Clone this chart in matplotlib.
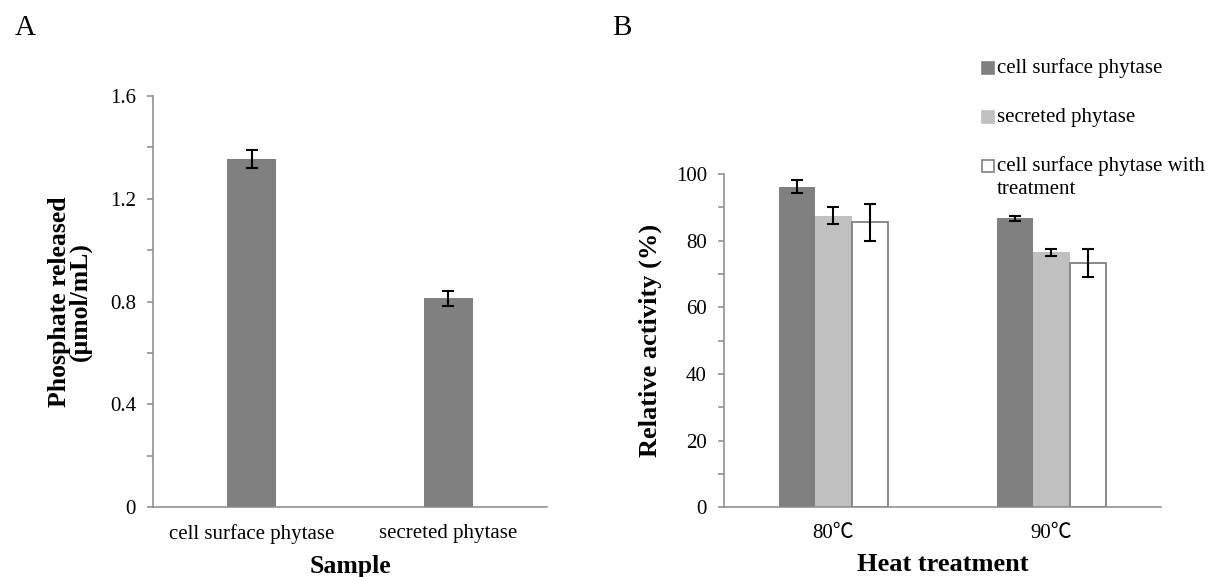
import matplotlib
matplotlib.use('Agg')
import matplotlib.pyplot as plt
from matplotlib.patches import Rectangle
from matplotlib.ticker import MultipleLocator
import numpy as np

plt.rcParams['font.family'] = ['Liberation Serif', 'Noto Sans CJK SC', 'DejaVu Sans']

# panel A data
samples = ['cell surface phytase', 'secreted phytase']
phosphate = [1.354, 0.812]
phosphate_err = [0.034, 0.030]

# panel B data
temps = ['80\u2103', '90\u2103']
series_names = ['cell surface phytase', 'secreted phytase', 'cell surface phytase with\ntreatment']
surface_act = [96.2, 86.7]
surface_err = [1.9, 0.75]
secreted_act = [87.5, 76.5]
secreted_err = [2.55, 1.0]
treated_act = [85.5, 73.2]
treated_err = [5.65, 4.2]

axis_grey = '#898989'
dark = '#808080'
light = '#c0c0c0'

fig = plt.figure(figsize=(12.11, 5.77), dpi=100)
axA = fig.add_axes([0.1266, 0.1208, 0.3248, 0.7133])
axB = fig.add_axes([0.5981, 0.1208, 0.3602, 0.5776])


def style_axis(ax):
    for s in ['top', 'right']:
        ax.spines[s].set_visible(False)
    for s in ['left', 'bottom']:
        ax.spines[s].set_color(axis_grey)
        ax.spines[s].set_linewidth(1.1)
    ax.tick_params(axis='y', which='both', direction='out', length=4.5, width=1.1,
                   color=axis_grey, labelsize=15, pad=8)
    ax.tick_params(axis='x', which='both', length=0, labelsize=15, pad=12)


# ---- A
x = np.arange(len(samples))
axA.bar(x, phosphate, 0.25, color=dark)
axA.errorbar(x, phosphate, yerr=phosphate_err, fmt='none', ecolor='black',
             elinewidth=1.5, capsize=4.3, capthick=1.5)
axA.set_xlim(-0.5, 1.5)
axA.set_ylim(0, 1.6)
axA.yaxis.set_major_locator(MultipleLocator(0.4))
axA.yaxis.set_minor_locator(MultipleLocator(0.2))
axA.yaxis.set_major_formatter(lambda v, p: '0' if abs(v) < 1e-9 else f'{v:.1f}')
axA.set_xticks(x)
axA.set_xticklabels(samples)
style_axis(axA)
axA.set_xlabel('Sample', fontsize=18.5, fontweight='bold', labelpad=8)
axA.set_ylabel('Phosphate released\n(\u03bcmol/mL)', fontsize=18.5, fontweight='bold',
               labelpad=13, linespacing=0.86)

# ---- B
xb = np.arange(len(temps))
w = 1 / 6
axB.bar(xb - w, surface_act, w, color=dark)
axB.bar(xb, secreted_act, w, color=light)
axB.bar(xb + w, treated_act, w, color='white', edgecolor=dark, linewidth=1.3)
for off, vals, errs in [(-w, surface_act, surface_err), (0, secreted_act, secreted_err),
                        (w, treated_act, treated_err)]:
    axB.errorbar(xb + off, vals, yerr=errs, fmt='none', ecolor='black',
                 elinewidth=1.5, capsize=4.3, capthick=1.5)
axB.set_xlim(-0.5, 1.5)
axB.set_ylim(0, 100)
axB.yaxis.set_major_locator(MultipleLocator(20))
axB.yaxis.set_minor_locator(MultipleLocator(10))
axB.set_xticks(xb)
axB.set_xticklabels(temps)
style_axis(axB)
axB.set_xlabel('Heat treatment', fontsize=19, fontweight='bold', labelpad=7)
axB.set_ylabel('Relative activity (%)', fontsize=19, fontweight='bold', labelpad=10)

# legend for B, drawn by hand so the box sits on the first text line
W, H = 1211, 577
leg_y = [68, 117, 166]
leg_fc = [dark, light, 'white']
leg_ec = [dark, light, dark]
for yy, name, fc, ec in zip(leg_y, series_names, leg_fc, leg_ec):
    fig.add_artist(Rectangle((982 / W, 1 - (yy + 6) / H), 12 / W, 12 / H,
                             transform=fig.transFigure, facecolor=fc, edgecolor=ec,
                             linewidth=1.2))
    for i, line in enumerate(name.split('\n')):
        fig.text(997 / W, 1 - (yy + 24 * i) / H, line, fontsize=15, va='center', ha='left')

fig.text(15 / W, 1 - 28 / H, 'A', fontsize=21, va='center', ha='left')
fig.text(612 / W, 1 - 28 / H, 'B', fontsize=21, va='center', ha='left')

fig.savefig('out.png', dpi=100)
